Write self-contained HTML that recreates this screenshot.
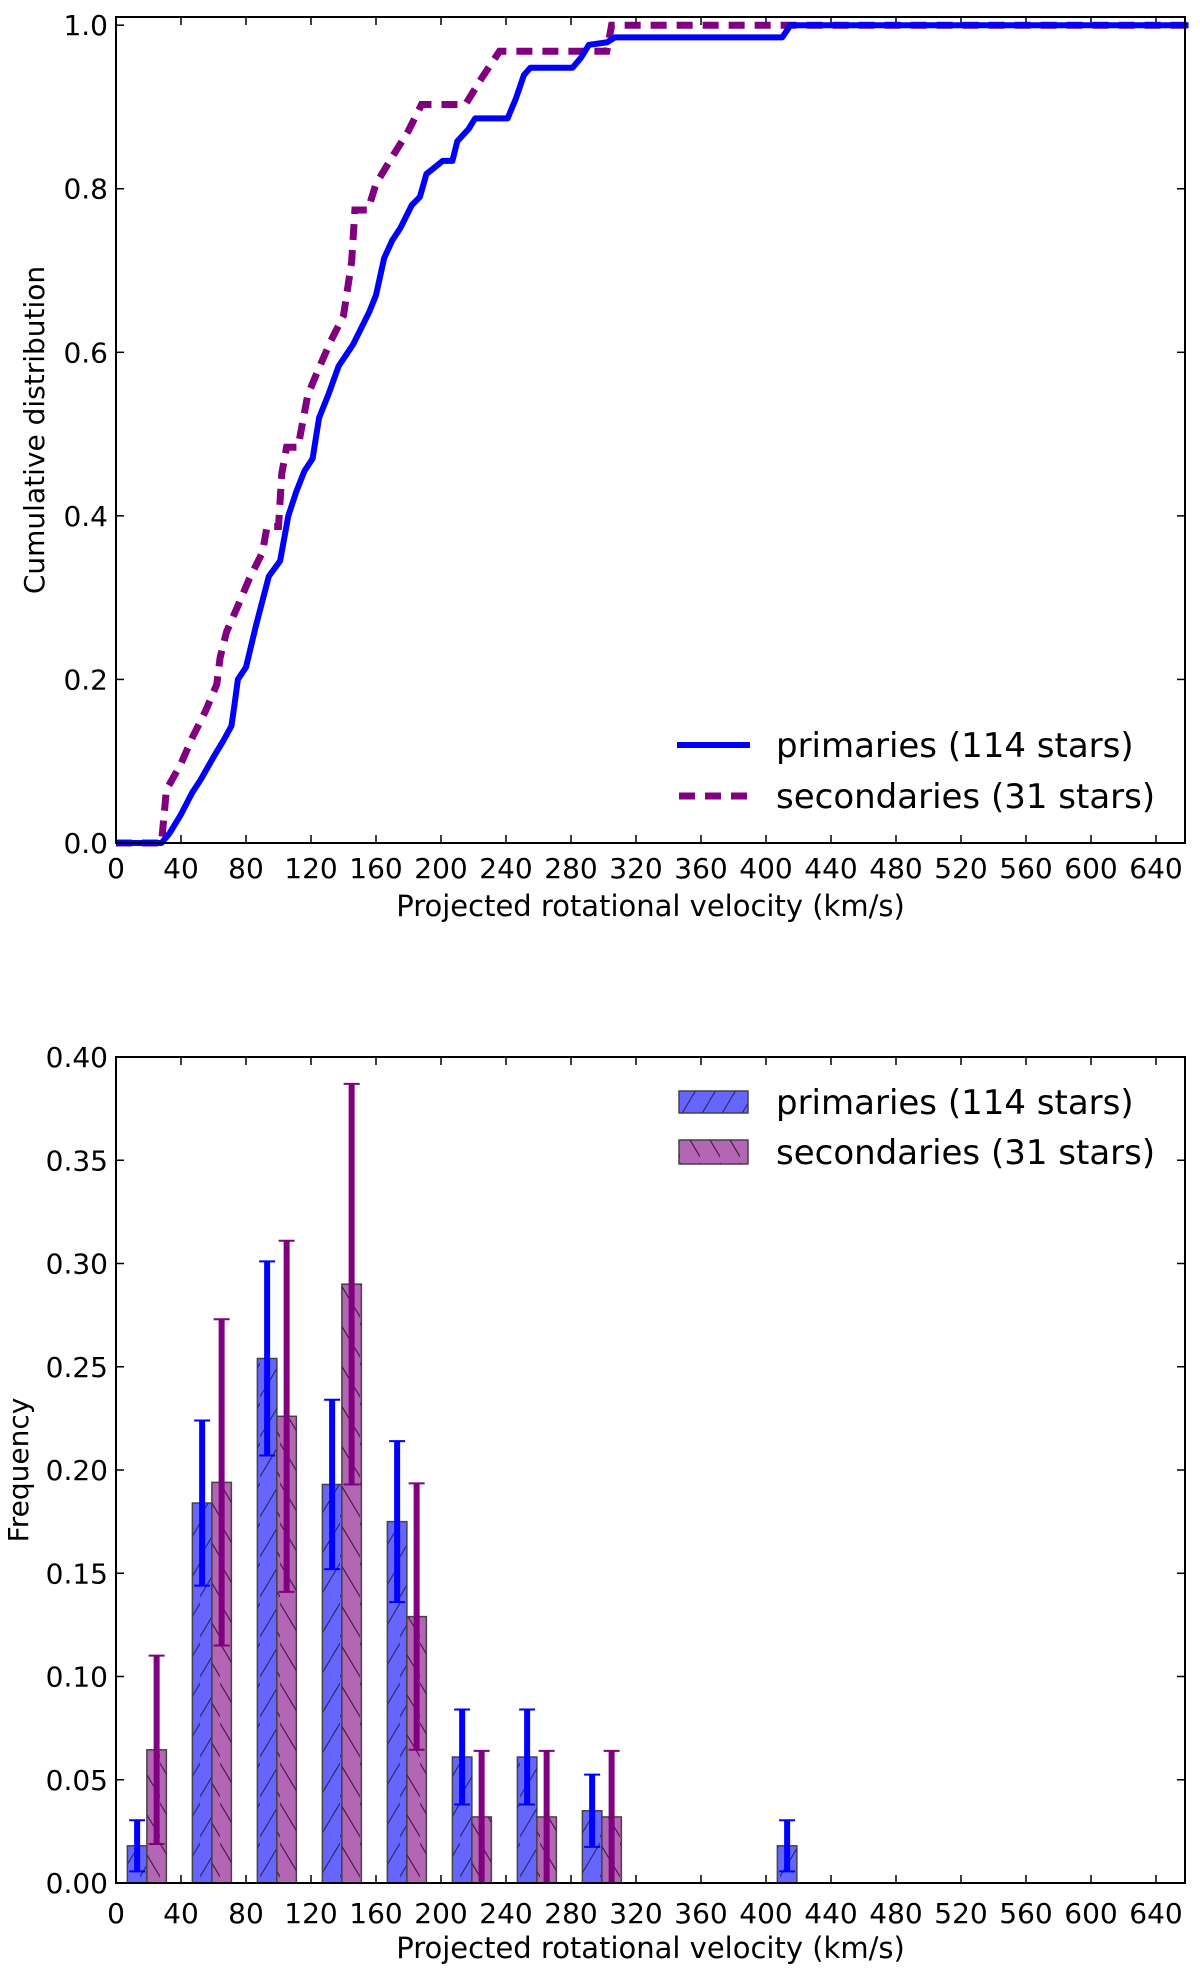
<!DOCTYPE html>
<html><head><meta charset="utf-8"><style>
html,body{margin:0;padding:0;background:#fff;width:1200px;height:1980px;overflow:hidden}
svg{display:block}
text{font-family:"DejaVu Sans","Liberation Sans",sans-serif;fill:#000}
</style></head><body>
<svg id="fig" width="1200" height="1980" viewBox="0 0 1200 1980">
<defs>
<pattern id="hatchF" patternUnits="userSpaceOnUse" width="20" height="40"><path d="M-5,45 L25,-5" stroke="#2a2a6a" stroke-width="1.2" fill="none"/></pattern>
<pattern id="hatchB" patternUnits="userSpaceOnUse" width="20" height="40"><path d="M-5,-5 L25,45" stroke="#4a1a4a" stroke-width="1.2" fill="none"/></pattern>
</defs>
<g id="top"></g>
<g id="bot"></g>
</svg>
<script>
// ---- CDF data ----
const primV = [0,25,28,33,40,47,52,60,66,71,73,75,80,86,94,101,106,111,116,121,125,131,137,146,156,160,165,170,175,182,187,191,196,201,207,210,217,221,241,246,251,255,281,286,291,302,307,410,415,660];
const primC = [0,0,0,0.012,0.035,0.062,0.077,0.105,0.125,0.143,0.17,0.20,0.215,0.265,0.326,0.345,0.40,0.43,0.455,0.47,0.52,0.55,0.583,0.61,0.65,0.67,0.715,0.737,0.752,0.78,0.79,0.818,0.826,0.834,0.834,0.858,0.873,0.886,0.886,0.91,0.939,0.948,0.948,0.96,0.976,0.979,0.985,0.985,1.0,1.0];
const secV = [0,28,31,40,47,55,62,64,68,75,82,90,93,100,102,105,112,118,125,132,140,145,147,155,160,170,180,188,205,215,225,236,295,302,305,660];
const secC = [0,0,0.065,0.097,0.129,0.161,0.194,0.226,0.258,0.290,0.323,0.355,0.387,0.387,0.452,0.484,0.484,0.548,0.581,0.613,0.645,0.71,0.774,0.774,0.806,0.839,0.871,0.903,0.903,0.903,0.935,0.968,0.968,0.968,1.0,1.0];
const xTicks = [0,40,80,120,160,200,240,280,320,360,400,440,480,520,560,600,640];
const yTicksTop = [0.0,0.2,0.4,0.6,0.8,1.0];
// ---- histogram data ----
const binStarts = [7,47,87,127,167,207,247,287,327,367,407];
const primFreq = [0.018,0.184,0.254,0.193,0.175,0.061,0.061,0.035,0,0,0.018];
const primErr = [0.0124,0.040,0.047,0.041,0.039,0.023,0.023,0.0175,0,0,0.0124];
const secFreq = [0.0645,0.194,0.226,0.290,0.129,0.032,0.032,0.032,0,0,0];
const secErr = [0.0456,0.079,0.085,0.097,0.0645,0.032,0.032,0.032,0,0,0];
const yTicksBot = [0.00,0.05,0.10,0.15,0.20,0.25,0.30,0.35,0.40];

const NS='http://www.w3.org/2000/svg';
function mk(tag,attrs,parent){const e=document.createElementNS(NS,tag);for(const k in attrs)e.setAttribute(k,attrs[k]);parent.appendChild(e);return e;}

const L=116,R=1185;
const xs=v=>L+v*1.625;

function axes(g,T,B,ymax,yt,fmt,xlabY,tickLabY){
  xTicks.forEach(v=>{const x=xs(v);
    mk('line',{x1:x,x2:x,y1:B,y2:B-8,stroke:'#000','stroke-width':1.5},g);
    mk('line',{x1:x,x2:x,y1:T,y2:T+8,stroke:'#000','stroke-width':1.5},g);
    const t=mk('text',{x:x,y:tickLabY,'font-size':28,'text-anchor':'middle'},g);t.textContent=v;
    
    
  });
  const ys=v=>B-(B-T)*v/ymax;
  yt.forEach(v=>{const y=ys(v);
    mk('line',{x1:L,x2:L+8,y1:y,y2:y,stroke:'#000','stroke-width':1.5},g);
    mk('line',{x1:R,x2:R-8,y1:y,y2:y,stroke:'#000','stroke-width':1.5},g);
    const t=mk('text',{x:108,y:y+10,'font-size':28,'text-anchor':'end'},g);t.textContent=fmt(v);
    
    
  });
  const xl=mk('text',{x:(L+R)/2,y:xlabY,'font-size':29,'text-anchor':'middle'},g);xl.textContent='Projected rotational velocity (km/s)';
  
  
  return ys;
}
function frame(g,T,B){const r=mk('rect',{x:L,y:T,width:R-L,height:B-T,fill:'none',stroke:'#000','stroke-width':2},g);
  
  }

// ===== TOP =====
(function(){
const g=document.getElementById('top');const T=17,B=843,YM=1.01;
const ys=axes(g,T,B,YM,yTicksTop,v=>v.toFixed(1),916,878);
const yl=mk('text',{x:0,y:0,'font-size':28,'text-anchor':'middle',transform:`translate(44,${(T+B)/2}) rotate(-90)`},g);yl.textContent='Cumulative distribution';


const pts=(V,C)=>V.map((v,i)=>xs(v).toFixed(1)+','+ys(C[i]).toFixed(1)).join(' ');
const s=mk('polyline',{points:pts(secV,secC),fill:'none',stroke:'#800080','stroke-width':7,'stroke-dasharray':'16 10'},g);


const p=mk('polyline',{points:pts(primV,primC),fill:'none',stroke:'#0000ff','stroke-width':6,'stroke-linejoin':'round'},g);


frame(g,T,B);
const lg=mk('g',{},g);
mk('line',{x1:677,x2:750,y1:745,y2:745,stroke:'#0000ff','stroke-width':6},lg);
mk('line',{x1:679,x2:750,y1:796,y2:796,stroke:'#800080','stroke-width':7,'stroke-dasharray':'16 10'},lg);
let t=mk('text',{x:776,y:757,'font-size':34},lg);t.textContent='primaries (114 stars)';

t=mk('text',{x:776,y:808,'font-size':34},lg);t.textContent='secondaries (31 stars)';

})();

// ===== BOTTOM =====
(function(){
const g=document.getElementById('bot');const T=1057,B=1883,YM=0.40;
const ys=axes(g,T,B,YM,yTicksBot,v=>v.toFixed(2),1958,1923);
const yl=mk('text',{x:0,y:0,'font-size':28,'text-anchor':'middle',transform:`translate(28,${(T+B)/2}) rotate(-90)`},g);yl.textContent='Frequency';


const BW=12;
binStarts.forEach((s,i)=>{
  [[primFreq[i],s,'#6666ff','url(#hatchF)','primaries'],[secFreq[i],s+BW,'#b366b3','url(#hatchB)','secondaries']].forEach(([f,x0,col,h,nm])=>{
    if(f<=0)return;
    const x=xs(x0),w=BW*1.625,y=ys(f);
    const r=mk('rect',{x:x,y:y,width:w,height:B-y,fill:col,stroke:'#444','stroke-width':1.5},g);
    
    
    mk('rect',{x:x,y:y,width:w,height:B-y,fill:h},g);
  });
});
binStarts.forEach((s,i)=>{
  [[primFreq[i],primErr[i],s+BW/2,'#0000ff','primaries'],[secFreq[i],secErr[i],s+1.5*BW,'#800080','secondaries']].forEach(([f,e,c,col,nm])=>{
    if(f<=0)return;
    const x=xs(c),y1=ys(f+e),y2=ys(f-e);
    const l=mk('line',{x1:x,x2:x,y1:y1,y2:y2,stroke:col,'stroke-width':6},g);
    
    
    mk('line',{x1:x-8,x2:x+8,y1:y1,y2:y1,stroke:col,'stroke-width':2},g);
    mk('line',{x1:x-8,x2:x+8,y1:y2,y2:y2,stroke:col,'stroke-width':2},g);
  });
});
frame(g,T,B);
const lg=mk('g',{},g);
mk('rect',{x:679,y:1091,width:69,height:22,fill:'#6666ff',stroke:'#444','stroke-width':1.5},lg);
mk('rect',{x:679,y:1091,width:69,height:22,fill:'url(#hatchF)'},lg);
mk('rect',{x:679,y:1140,width:69,height:24,fill:'#b366b3',stroke:'#444','stroke-width':1.5},lg);
mk('rect',{x:679,y:1140,width:69,height:24,fill:'url(#hatchB)'},lg);
let t=mk('text',{x:776,y:1114,'font-size':34},lg);t.textContent='primaries (114 stars)';

t=mk('text',{x:776,y:1164,'font-size':34},lg);t.textContent='secondaries (31 stars)';

})();
</script>
</body></html>
